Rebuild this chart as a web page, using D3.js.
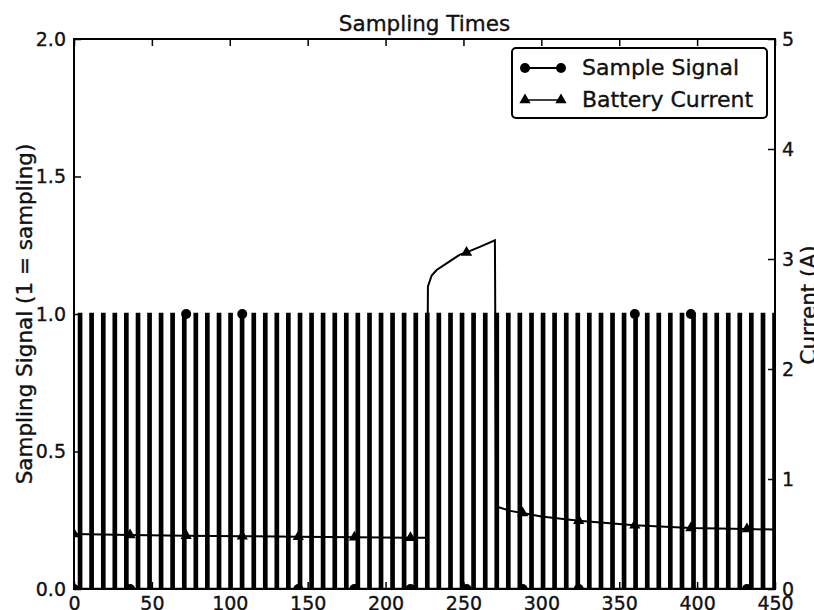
<!DOCTYPE html>
<html>
<head>
<meta charset="utf-8">
<script src="https://cdn.jsdelivr.net/npm/d3@7"></script>
<style>
  body { margin: 0; background: #fff; }
  text { font-family: "DejaVu Sans", sans-serif; fill: #111; stroke: #111; stroke-width: 0.35px; }
</style>
</head>
<body>
<div class="chart"></div>
<script>
	// data
	var pulseCenters = [3.9, 11.3, 18.8, 26.2, 33.6, 41.1, 48.5, 55.9, 63.3, 70.8,
		78.2, 85.6, 93.1, 100.5, 107.9, 115.4, 122.8, 130.2, 137.6, 145.1,
		152.5, 159.9, 167.4, 174.8, 182.2, 189.7, 197.1, 204.5, 211.9, 219.4,
		226.8, 234.2, 241.7, 249.1, 256.5, 264.0, 271.4, 278.8, 286.2, 293.7,
		301.1, 308.5, 316.0, 323.4, 330.8, 338.3, 345.7, 353.1, 360.5, 368.0,
		375.4, 382.8, 390.3, 397.7, 405.1, 412.6, 420.0, 427.4, 434.8, 442.3, 449.7];
	var pulseWidth = 1.4;

	var sampleMarkT = [0, 36, 72, 108, 144, 180, 216, 252, 288, 324, 360, 396, 432];
	var sampleMarkV = [0, 0, 1, 1, 0, 0, 0, 0, 0, 0, 1, 1, 0];

	var currentT = [0, 36, 72, 108, 144, 180, 216, 226.3, 227.2, 229.6, 232.8, 239.2,
		247.7, 252, 260.5, 270.2, 271, 280, 288, 300, 324, 360, 396, 432, 450];
	var currentA = [0.50, 0.49, 0.485, 0.48, 0.475, 0.47, 0.466, 0.466, 2.75, 2.85, 2.90, 2.96,
		3.04, 3.06, 3.11, 3.17, 0.75, 0.71, 0.69, 0.66, 0.62, 0.58, 0.555, 0.545, 0.54];

	var xTicks = [0, 50, 100, 150, 200, 250, 300, 350, 400, 450];
	var leftTicks = [0, 0.5, 1.0, 1.5, 2.0];
	var rightTicks = [0, 1, 2, 3, 4, 5];

	// layout
	var width = 814, height = 610;
	var plot = { left: 74, right: 775, top: 39, bottom: 589 };

	var svg = d3.select(".chart")
		.append("svg")
			.attr("width", width)
			.attr("height", height);

	svg.append("clipPath")
		.attr("id", "plotclip")
		.append("rect")
			.attr("x", plot.left)
			.attr("y", plot.top)
			.attr("width", plot.right - plot.left)
			.attr("height", plot.bottom - plot.top);

	var x = d3.scaleLinear().domain([0, 450]).range([plot.left, plot.right]);
	var yL = d3.scaleLinear().domain([0, 2]).range([plot.bottom, plot.top]);
	var yR = d3.scaleLinear().domain([0, 5]).range([plot.bottom, plot.top]);

	var data = svg.append("g").attr("clip-path", "url(#plotclip)");

	// sample signal as a square wave
	var sig = [[0, 0]];
	pulseCenters.forEach(function(c) {
		var a = c - pulseWidth / 2, b = Math.min(c + pulseWidth / 2, 450);
		sig.push([a, 0], [a, 1], [b, 1], [b, 0]);
	});
	sig.push([450, 0]);

	data.append("path")
		.datum(sig)
		.attr("fill", "none")
		.attr("stroke", "#000")
		.attr("stroke-width", 2.5)
		.attr("d", d3.line()
			.x(function(d) { return x(d[0]); })
			.y(function(d) { return yL(d[1]); }));

	// battery current
	var cur = currentT.map(function(t, i) { return { t: t, a: currentA[i] }; });
	data.append("path")
		.datum(cur)
		.attr("fill", "none")
		.attr("stroke", "#000")
		.attr("stroke-width", 2)
		.attr("d", d3.line()
			.x(function(d) { return x(d.t); })
			.y(function(d) { return yR(d.a); }));

	var tri = d3.symbol().type(d3.symbolTriangle).size(55);
	data.selectAll(".tri")
		.data(cur.filter(function(d) { return d.t % 36 === 0; }))
		.enter().append("path")
			.attr("class", "tri")
			.attr("d", tri)
			.attr("fill", "#000")
			.attr("transform", function(d) { return "translate(" + x(d.t) + "," + yR(d.a) + ")"; });

	data.selectAll(".dot")
		.data(sampleMarkT)
		.enter().append("circle")
			.attr("class", "dot")
			.attr("cx", function(d) { return x(d); })
			.attr("cy", function(d, i) { return yL(sampleMarkV[i]); })
			.attr("r", 5)
			.attr("fill", "#000");

	// frame
	svg.append("rect")
		.attr("x", plot.left)
		.attr("y", plot.top)
		.attr("width", plot.right - plot.left)
		.attr("height", plot.bottom - plot.top)
		.attr("fill", "none")
		.attr("stroke", "#000")
		.attr("stroke-width", 2);

	// axes, ticks point inward
	function styleAxis(g) {
		g.select(".domain").remove();
		g.selectAll(".tick line").attr("stroke", "#000").attr("stroke-width", 1.5);
		g.selectAll(".tick text")
			.attr("fill", "#111")
			.style("font-family", "DejaVu Sans")
			.style("font-size", "19px");
	}

	svg.append("g")
		.attr("transform", "translate(0," + plot.bottom + ")")
		.call(d3.axisBottom(x).tickValues(xTicks).tickSize(-7).tickPadding(8)
			.tickFormat(d3.format("d")))
		.call(styleAxis);

	svg.append("g")
		.attr("transform", "translate(0," + plot.top + ")")
		.call(d3.axisTop(x).tickValues(xTicks).tickSize(-7).tickFormat(""))
		.call(styleAxis);

	svg.append("g")
		.attr("transform", "translate(" + plot.left + ",0)")
		.call(d3.axisLeft(yL).tickValues(leftTicks).tickSize(-7).tickPadding(8)
			.tickFormat(d3.format(".1f")))
		.call(styleAxis);

	svg.append("g")
		.attr("transform", "translate(" + plot.right + ",0)")
		.call(d3.axisRight(yR).tickValues(rightTicks).tickSize(-7).tickPadding(7)
			.tickFormat(d3.format("d")))
		.call(styleAxis);

	// title and axis labels
	svg.append("text")
		.attr("x", (plot.left + plot.right) / 2)
		.attr("y", 31)
		.attr("text-anchor", "middle")
		.attr("font-size", "21.5px")
		.text("Sampling Times");

	svg.append("text")
		.attr("transform", "translate(32," + ((plot.top + plot.bottom) / 2) + ") rotate(-90)")
		.attr("text-anchor", "middle")
		.attr("font-size", "21.5px")
		.text("Sampling Signal (1 = sampling)");

	svg.append("text")
		.attr("transform", "translate(816,305) rotate(-90)")
		.attr("text-anchor", "middle")
		.attr("font-size", "21.5px")
		.text("Current (A)");

	// legend
	var legend = svg.append("g");
	legend.append("rect")
		.attr("x", 512)
		.attr("y", 48)
		.attr("width", 255)
		.attr("height", 70)
		.attr("rx", 4)
		.attr("fill", "#fff")
		.attr("stroke", "#000")
		.attr("stroke-width", 2);

	var entries = [
		{ label: "Sample Signal", y: 68, mark: "circle" },
		{ label: "Battery Current", y: 100, mark: "triangle" }
	];
	entries.forEach(function(e) {
		legend.append("line")
			.attr("x1", 525).attr("x2", 561)
			.attr("y1", e.y).attr("y2", e.y)
			.attr("stroke", "#000")
			.attr("stroke-width", e.mark === "circle" ? 2 : 1.5);
		[525, 561].forEach(function(px) {
			if (e.mark === "circle") {
				legend.append("circle").attr("cx", px).attr("cy", e.y).attr("r", 5).attr("fill", "#000");
			} else {
				legend.append("path").attr("d", tri).attr("fill", "#000")
					.attr("transform", "translate(" + px + "," + e.y + ")");
			}
		});
		legend.append("text")
			.attr("x", 582)
			.attr("y", e.y + 7)
			.attr("font-size", "22px")
			.text(e.label);
	});
</script>
</body>
</html>
